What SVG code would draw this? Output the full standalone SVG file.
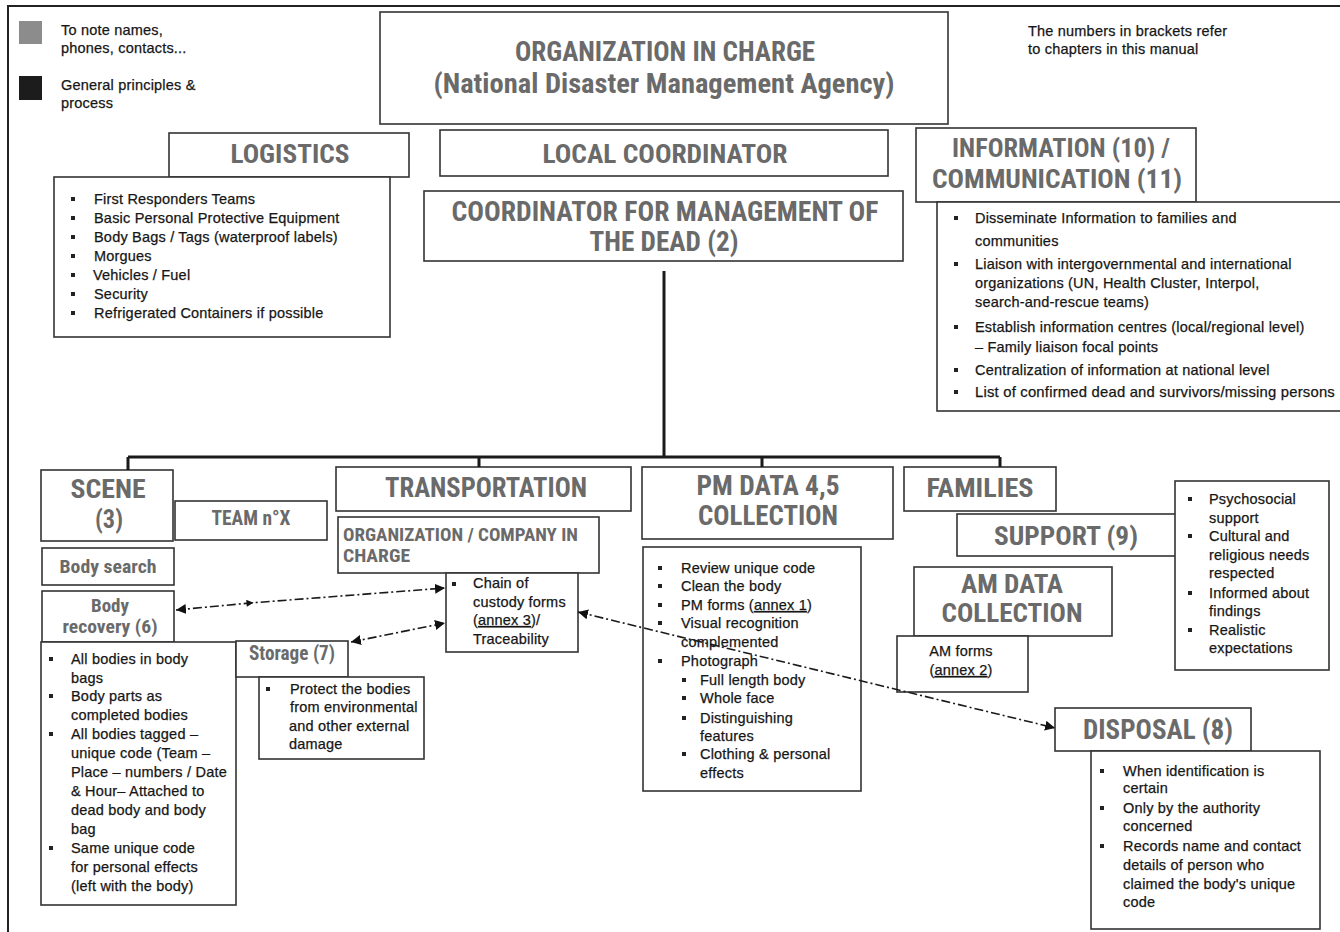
<svg xmlns="http://www.w3.org/2000/svg" width="1340" height="932" viewBox="0 0 1340 932">
<defs>
<style>
.box{fill:#fff;stroke:#333;stroke-width:1.6}
.h{font-family:"Liberation Sans Narrow","Roboto Condensed","DejaVu Sans Condensed","Liberation Sans",sans-serif;font-weight:bold;fill:#6a6a6a;text-anchor:middle}
.hl{font-family:"Liberation Sans Narrow","Roboto Condensed","DejaVu Sans Condensed","Liberation Sans",sans-serif;font-weight:bold;fill:#6a6a6a}
.t{font-family:"Liberation Sans",Arial,sans-serif;font-size:14.5px;letter-spacing:0.2px;fill:#161616;stroke:#161616;stroke-width:0.25}
.tc{font-family:"Liberation Sans",Arial,sans-serif;font-size:14.5px;letter-spacing:0.2px;fill:#161616;stroke:#161616;stroke-width:0.25;text-anchor:middle}
.tree{fill:none;stroke:#1a1a1a;stroke-width:3}
.dd{fill:none;stroke:#1a1a1a;stroke-width:1.6;stroke-dasharray:9 3 2 3}
.u{text-decoration:underline}
</style>
<rect id="b" x="-2" y="-2" width="4" height="4" fill="#222"/>
<marker id="ah" viewBox="0 0 10 10" refX="10" refY="5" markerWidth="10" markerHeight="10" markerUnits="userSpaceOnUse" orient="auto-start-reverse">
<path d="M0,0 L10,5 L0,10 z" fill="#111"/>
</marker>
<marker id="am" viewBox="0 0 10 10" refX="5" refY="5" markerWidth="8" markerHeight="7" markerUnits="userSpaceOnUse" orient="auto">
<path d="M0,0 L10,5 L0,10 z" fill="#111"/>
</marker>
</defs>
<rect x="0" y="0" width="1340" height="932" fill="#fff"/>
<rect x="8" y="6" width="1345" height="935" fill="none" stroke="#222" stroke-width="2"/>

<g id="legend">
<rect x="19" y="21" width="23" height="23" fill="#8c8c8c"/>
<rect x="19" y="76" width="23" height="24" fill="#1c1c1c"/>
<text class="t" x="61" y="35" font-size="14">To note names,</text>
<text class="t" x="61" y="53" font-size="14">phones, contacts...</text>
<text class="t" x="61" y="90" font-size="14">General principles &amp;</text>
<text class="t" x="61" y="108" font-size="14">process</text>
</g>

<g id="note">
<text class="t" x="1028" y="36" font-size="14">The numbers in brackets refer</text>
<text class="t" x="1028" y="54" font-size="14">to chapters in this manual</text>
</g>

<g id="org">
<rect class="box" x="380" y="12" width="568" height="112"/>
<text class="h" x="665" y="61" font-size="28" textLength="300" lengthAdjust="spacingAndGlyphs">ORGANIZATION IN CHARGE</text>
<text class="h" x="664" y="93" font-size="28" textLength="461" lengthAdjust="spacingAndGlyphs">(National Disaster Management Agency)</text>
</g>

<g id="logistics">
<rect class="box" x="169" y="133" width="240" height="44"/>
<text class="h" x="290" y="163" font-size="26" textLength="119" lengthAdjust="spacingAndGlyphs">LOGISTICS</text>
</g>
<g id="logistics-list">
<rect class="box" x="54" y="177" width="336" height="160"/>
<use href="#b" x="73" y="199"/><text class="t" x="94" y="204">First Responders Teams</text>
<use href="#b" x="73" y="218"/><text class="t" x="94" y="223">Basic Personal Protective Equipment</text>
<use href="#b" x="73" y="237"/><text class="t" x="94" y="242">Body Bags / Tags (waterproof labels)</text>
<use href="#b" x="73" y="256"/><text class="t" x="94" y="261">Morgues</text>
<use href="#b" x="73" y="275"/><text class="t" x="93" y="280">Vehicles / Fuel</text>
<use href="#b" x="73" y="294"/><text class="t" x="94" y="299">Security</text>
<use href="#b" x="73" y="313"/><text class="t" x="94" y="318">Refrigerated Containers if possible</text>
</g>

<g id="local">
<rect class="box" x="440" y="130" width="448" height="46"/>
<text class="h" x="665" y="163" font-size="26" textLength="245" lengthAdjust="spacingAndGlyphs">LOCAL COORDINATOR</text>
</g>

<g id="coordinator">
<rect class="box" x="424" y="191" width="479" height="70"/>
<text class="h" x="665" y="221" font-size="27" textLength="427" lengthAdjust="spacingAndGlyphs">COORDINATOR FOR MANAGEMENT OF</text>
<text class="h" x="664" y="251" font-size="27" textLength="149" lengthAdjust="spacingAndGlyphs">THE DEAD (2)</text>
</g>

<g id="information">
<rect class="box" x="916" y="128" width="280" height="74"/>
<text class="h" x="1061" y="157" font-size="26" textLength="218" lengthAdjust="spacingAndGlyphs">INFORMATION (10) /</text>
<text class="h" x="1057" y="188" font-size="26" textLength="250" lengthAdjust="spacingAndGlyphs">COMMUNICATION (11)</text>
</g>
<g id="information-list">
<rect class="box" x="937" y="202" width="410" height="209"/>
<use href="#b" x="956" y="218"/><text class="t" x="975" y="223">Disseminate Information to families and</text>
<text class="t" x="975" y="246">communities</text>
<use href="#b" x="956" y="264"/><text class="t" x="975" y="269">Liaison with intergovernmental and international</text>
<text class="t" x="975" y="288">organizations (UN, Health Cluster, Interpol,</text>
<text class="t" x="975" y="307">search-and-rescue teams)</text>
<use href="#b" x="956" y="327"/><text class="t" x="975" y="332">Establish information centres (local/regional level)</text>
<text class="t" x="975" y="352">– Family liaison focal points</text>
<use href="#b" x="956" y="370"/><text class="t" x="975" y="375">Centralization of information at national level</text>
<use href="#b" x="956" y="392"/><text class="t" x="975" y="397" textLength="360" lengthAdjust="spacingAndGlyphs">List of confirmed dead and survivors/missing persons</text>
</g>

<g id="scene">
<rect class="box" x="41" y="470" width="132" height="71"/>
<text class="h" x="108" y="498" font-size="25" textLength="75" lengthAdjust="spacingAndGlyphs">SCENE</text>
<text class="h" x="109" y="528" font-size="25" textLength="28" lengthAdjust="spacingAndGlyphs">(3)</text>
</g>
<g id="team">
<rect class="box" x="175" y="501" width="152" height="39"/>
<text class="h" x="251" y="525" font-size="20" textLength="79" lengthAdjust="spacingAndGlyphs">TEAM n°X</text>
</g>
<g id="body-search">
<rect class="box" x="42" y="548" width="132" height="37"/>
<text class="h" x="108" y="573" font-size="19" textLength="97" lengthAdjust="spacingAndGlyphs">Body search</text>
</g>
<g id="body-recovery">
<rect class="box" x="42" y="591" width="132" height="51"/>
<text class="h" x="110" y="612" font-size="19" textLength="38" lengthAdjust="spacingAndGlyphs">Body</text>
<text class="h" x="110" y="633" font-size="19" textLength="95" lengthAdjust="spacingAndGlyphs">recovery (6)</text>
</g>
<g id="recovery-list">
<rect class="box" x="41" y="642" width="195" height="263"/>
<use href="#b" x="51" y="659"/><text class="t" x="71" y="664">All bodies in body</text>
<text class="t" x="71" y="683">bags</text>
<use href="#b" x="51" y="696"/><text class="t" x="71" y="701">Body parts as</text>
<text class="t" x="71" y="720">completed bodies</text>
<use href="#b" x="51" y="734"/><text class="t" x="71" y="739">All bodies tagged –</text>
<text class="t" x="71" y="758">unique code (Team –</text>
<text class="t" x="71" y="777">Place – numbers / Date</text>
<text class="t" x="71" y="796">&amp; Hour– Attached to</text>
<text class="t" x="71" y="815">dead body and body</text>
<text class="t" x="71" y="834">bag</text>
<use href="#b" x="51" y="848"/><text class="t" x="71" y="853">Same unique code</text>
<text class="t" x="71" y="872">for personal effects</text>
<text class="t" x="71" y="891">(left with the body)</text>
</g>

<g id="storage">
<rect class="box" x="236" y="641" width="112" height="36"/>
<text class="h" x="292" y="660" font-size="20" textLength="86" lengthAdjust="spacingAndGlyphs">Storage (7)</text>
</g>
<g id="storage-list">
<rect class="box" x="259" y="677" width="165" height="82"/>
<use href="#b" x="268" y="689"/><text class="t" x="290" y="694">Protect the bodies</text>
<text class="t" x="290" y="712">from environmental</text>
<text class="t" x="289" y="731">and other external</text>
<text class="t" x="289" y="749">damage</text>
</g>

<g id="transportation">
<rect class="box" x="336" y="467" width="295" height="44"/>
<text class="h" x="486" y="497" font-size="27" textLength="202" lengthAdjust="spacingAndGlyphs">TRANSPORTATION</text>
</g>
<g id="company">
<rect class="box" x="338" y="517" width="261" height="56"/>
<text class="hl" x="343" y="541" font-size="19" textLength="235" lengthAdjust="spacingAndGlyphs">ORGANIZATION / COMPANY IN</text>
<text class="hl" x="343" y="562" font-size="19" textLength="67" lengthAdjust="spacingAndGlyphs">CHARGE</text>
</g>
<g id="custody">
<rect class="box" x="446" y="573" width="132" height="79"/>
<use href="#b" x="454" y="584"/><text class="t" x="473" y="588">Chain of</text>
<text class="t" x="473" y="607">custody forms</text>
<text class="t" x="473" y="625">(<tspan class="u">annex 3</tspan>)/</text>
<text class="t" x="473" y="644">Traceability</text>
</g>

<g id="pm-data">
<rect class="box" x="642" y="467" width="251" height="72"/>
<text class="h" x="768" y="495" font-size="27" textLength="143" lengthAdjust="spacingAndGlyphs">PM DATA 4,5</text>
<text class="h" x="768" y="525" font-size="27" textLength="140" lengthAdjust="spacingAndGlyphs">COLLECTION</text>
</g>
<g id="pm-list">
<rect class="box" x="643" y="547" width="218" height="244"/>
<use href="#b" x="660" y="568"/><text class="t" x="681" y="573">Review unique code</text>
<use href="#b" x="660" y="586"/><text class="t" x="681" y="591">Clean the body</text>
<use href="#b" x="660" y="605"/><text class="t" x="681" y="610">PM forms (<tspan class="u">annex 1</tspan>)</text>
<use href="#b" x="660" y="623"/><text class="t" x="681" y="628">Visual recognition</text>
<text class="t" x="681" y="647">complemented</text>
<use href="#b" x="660" y="661"/><text class="t" x="681" y="666">Photograph</text>
<use href="#b" x="684" y="680"/><text class="t" x="700" y="685">Full length body</text>
<use href="#b" x="684" y="698"/><text class="t" x="700" y="703">Whole face</text>
<use href="#b" x="684" y="718"/><text class="t" x="700" y="723">Distinguishing</text>
<text class="t" x="700" y="741">features</text>
<use href="#b" x="684" y="754"/><text class="t" x="700" y="759">Clothing &amp; personal</text>
<text class="t" x="700" y="778">effects</text>
</g>

<g id="families">
<rect class="box" x="904" y="467" width="152" height="44"/>
<text class="h" x="980" y="497" font-size="26" textLength="107" lengthAdjust="spacingAndGlyphs">FAMILIES</text>
</g>
<g id="support">
<rect class="box" x="957" y="514" width="219" height="42"/>
<text class="h" x="1066" y="545" font-size="26" textLength="144" lengthAdjust="spacingAndGlyphs">SUPPORT (9)</text>
</g>
<g id="support-list">
<rect class="box" x="1175" y="481" width="154" height="189"/>
<use href="#b" x="1190" y="499"/><text class="t" x="1209" y="504">Psychosocial</text>
<text class="t" x="1209" y="523">support</text>
<use href="#b" x="1190" y="536"/><text class="t" x="1209" y="541">Cultural and</text>
<text class="t" x="1209" y="560">religious needs</text>
<text class="t" x="1209" y="578">respected</text>
<use href="#b" x="1190" y="593"/><text class="t" x="1209" y="598">Informed about</text>
<text class="t" x="1209" y="616">findings</text>
<use href="#b" x="1190" y="630"/><text class="t" x="1209" y="635">Realistic</text>
<text class="t" x="1209" y="653">expectations</text>
</g>
<g id="am-data">
<rect class="box" x="914" y="567" width="198" height="69"/>
<text class="h" x="1012" y="593" font-size="26" textLength="102" lengthAdjust="spacingAndGlyphs">AM DATA</text>
<text class="h" x="1012" y="622" font-size="26" textLength="141" lengthAdjust="spacingAndGlyphs">COLLECTION</text>
</g>
<g id="am-forms">
<rect class="box" x="897" y="636" width="131" height="56"/>
<text class="tc" x="961" y="656">AM forms</text>
<text class="tc" x="961" y="675">(<tspan class="u">annex 2</tspan>)</text>
</g>

<g id="disposal">
<rect class="box" x="1055" y="708" width="196" height="43"/>
<text class="h" x="1158" y="739" font-size="28" textLength="150" lengthAdjust="spacingAndGlyphs">DISPOSAL (8)</text>
</g>
<g id="disposal-list">
<rect class="box" x="1091" y="751" width="229" height="178"/>
<use href="#b" x="1102" y="771"/><text class="t" x="1123" y="776">When identification is</text>
<text class="t" x="1123" y="793">certain</text>
<use href="#b" x="1102" y="808"/><text class="t" x="1123" y="813">Only by the authority</text>
<text class="t" x="1123" y="831">concerned</text>
<use href="#b" x="1102" y="846"/><text class="t" x="1123" y="851">Records name and contact</text>
<text class="t" x="1123" y="870">details of person who</text>
<text class="t" x="1123" y="889">claimed the body's unique</text>
<text class="t" x="1123" y="907">code</text>
</g>

<g id="connectors">
<path class="tree" d="M664,271 V457 M128,457 H1000 M128,457 V470 M479,457 V467 M762,457 V467 M1000,457 V467"/>
<path class="dd" d="M176,610 L250,603 L445,588" marker-start="url(#ah)" marker-mid="url(#am)" marker-end="url(#ah)"/>
<path class="dd" d="M351,642 L445,623" marker-start="url(#ah)" marker-end="url(#ah)"/>
<path class="dd" d="M578,612 L1055,728" marker-start="url(#ah)" marker-end="url(#ah)"/>
</g>
</svg>
